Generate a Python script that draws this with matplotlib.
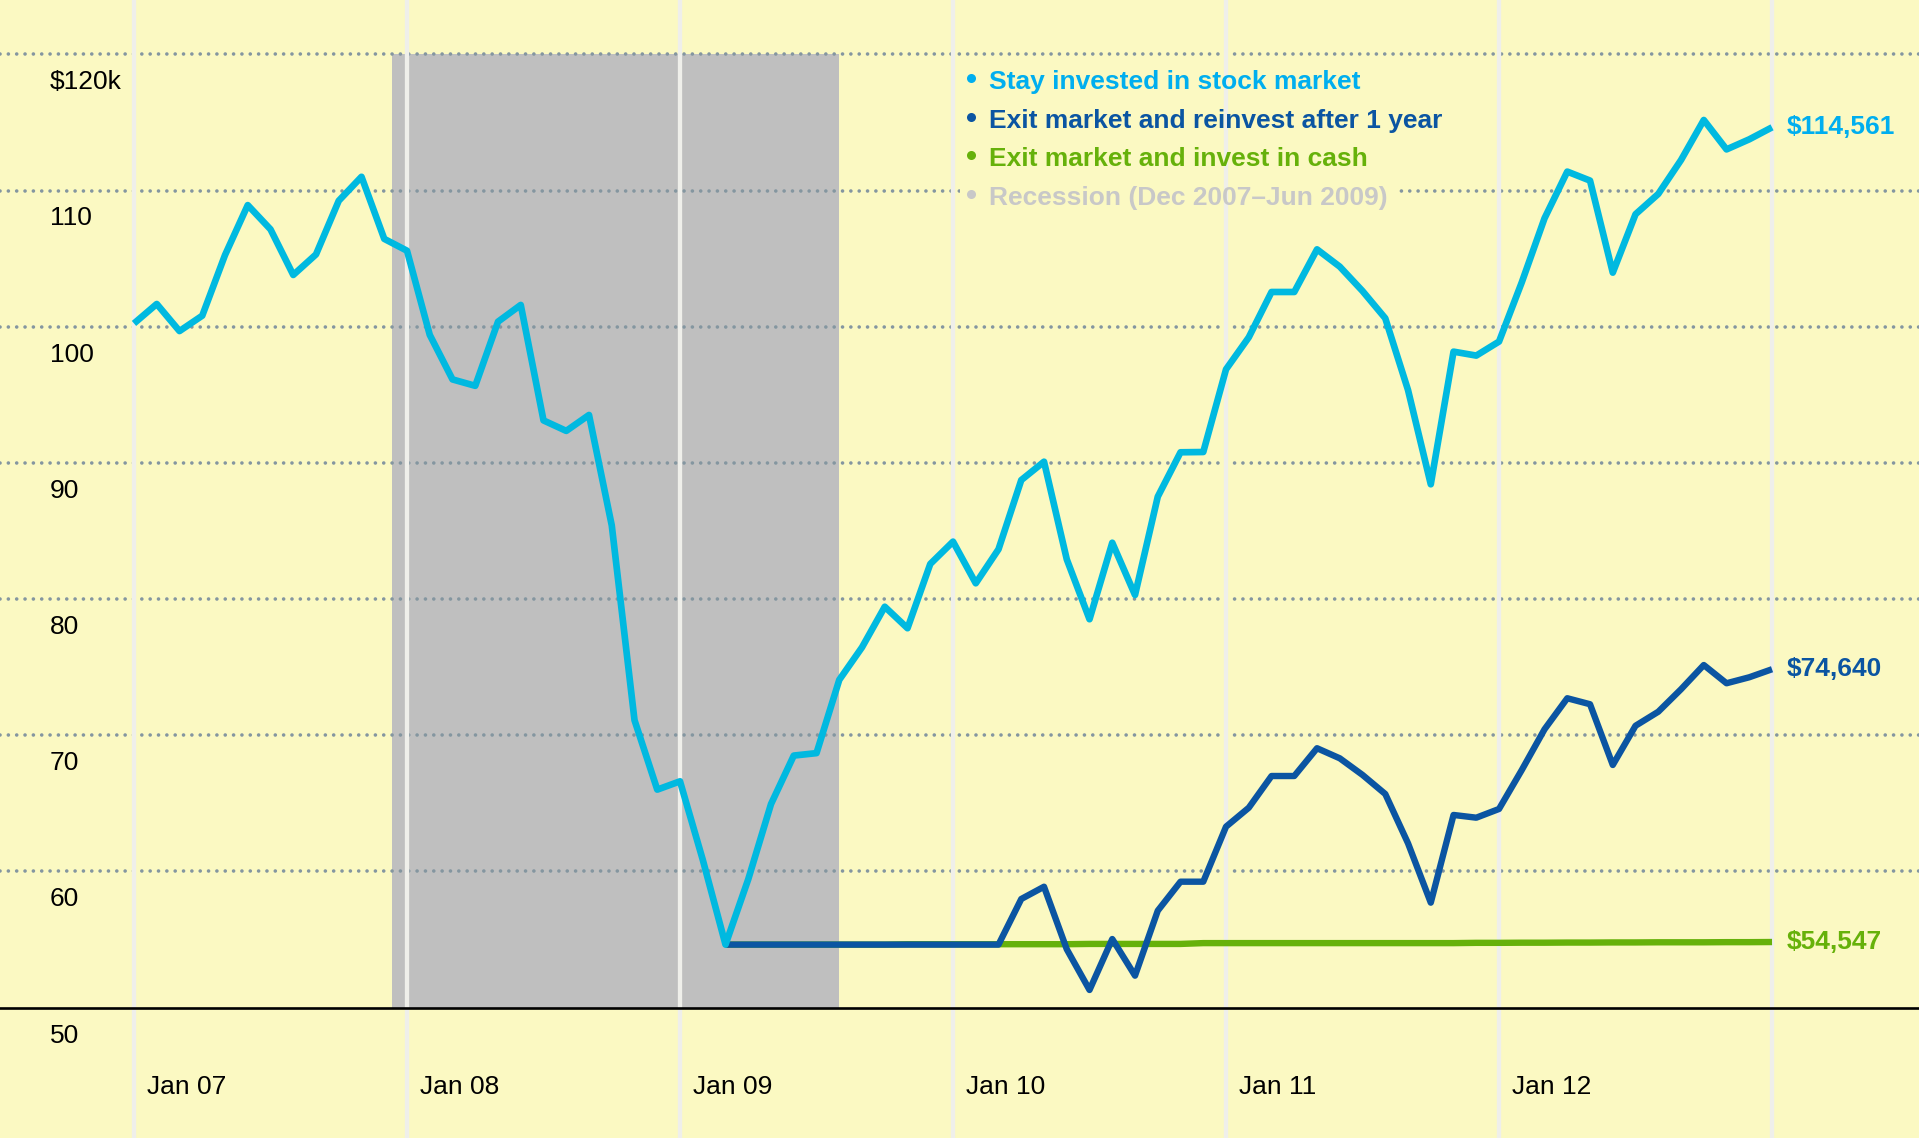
import numpy as np
import matplotlib
matplotlib.use('Agg')
from matplotlib import pyplot as plt
from matplotlib.patches import Rectangle

plt.rcParams['font.family'] = ['Liberation Sans', 'DejaVu Sans']

# month index 0 = Jan 2007, 72 = Jan 2013
stock = [100.24, 101.67, 99.68, 100.81, 105.26, 108.93, 107.15, 103.8, 105.31, 109.25,
         111.01, 106.45, 105.58, 99.4, 96.13, 95.66, 100.37, 101.6, 93.12, 92.35,
         93.52, 85.41, 71.11, 66.01, 66.62, 60.86, 54.63, 59.43, 64.95, 68.51,
         68.69, 74.07, 76.46, 79.44, 77.86, 82.58, 84.22, 81.16, 83.66, 88.74,
         90.09, 82.92, 78.52, 84.14, 80.3, 87.52, 90.78, 90.8, 96.87, 99.22,
         102.55, 102.55, 105.68, 104.41, 102.62, 100.62, 95.35, 88.43, 98.17, 97.88,
         98.91, 103.26, 107.96, 111.39, 110.73, 103.97, 108.26, 109.75, 112.24, 115.18,
         113.02, 113.76, 114.64]

# the other two start at the Mar 2009 bottom (month 26)
exit_start = 26
reinvest = [54.63, 54.63, 54.63, 54.63, 54.63, 54.63, 54.63, 54.63, 54.63, 54.63,
            54.63, 54.63, 54.63,
            57.98, 58.88, 54.29, 51.3, 55.04, 52.35, 57.12, 59.25, 59.25, 63.29,
            64.68, 67.01, 67.01, 69.05, 68.31, 67.09, 65.69, 62.07, 57.71, 64.15,
            63.95, 64.59, 67.45, 70.44, 72.72, 72.28, 67.82, 70.7, 71.73, 73.38,
            75.16, 73.82, 74.26, 74.85]
cash = [54.63, 54.63, 54.63, 54.63, 54.63, 54.63, 54.63, 54.63,
        54.66, 54.66, 54.66, 54.66, 54.66, 54.66, 54.66, 54.66,
        54.68, 54.68, 54.68, 54.68, 54.68,
        54.74, 54.74, 54.74, 54.74, 54.74, 54.74, 54.74, 54.74, 54.74, 54.74, 54.74, 54.74,
        54.76, 54.76, 54.77, 54.77, 54.78, 54.78, 54.79, 54.79, 54.8, 54.8, 54.8,
        54.81, 54.81, 54.82]

end_labels = ['$114,561', '$74,640', '$54,547']
legend_labels = ['Stay invested in stock market', 'Exit market and reinvest after 1 year',
                 'Exit market and invest in cash', 'Recession (Dec 2007\u2013Jun 2009)']
year_labels = ['Jan 07', 'Jan 08', 'Jan 09', 'Jan 10', 'Jan 11', 'Jan 12']
y_values = [50, 60, 70, 80, 90, 100, 110, 120]
y_labels = ['50', '60', '70', '80', '90', '100', '110', '$120k']
recession = (11.35, 31.0)

c_stock = '#00B9E0'
c_stock_txt = '#00AEEF'
c_reinv = '#0B55A2'
c_cash = '#66B10A'
c_rec = '#C8C8C8'
bg = '#FBF9C2'

fig = plt.figure(figsize=(19.19, 11.38), dpi=100, facecolor=bg)
ax = fig.add_axes([0, 0, 1, 1])
ax.set_facecolor(bg)
ax.set_xlim(-5.89, 78.46)
ax.set_ylim(40.43, 123.99)
ax.axis('off')

ax.fill_between(recession, 50, 120, color='#BFBFBF', lw=0, zorder=1)
for v in y_values[1:]:
    ax.axhline(v, color='#8496A0', lw=2.6, ls=(0, (0.01, 2.3)),
               dash_capstyle='round', zorder=2)
# legend background hides the dotted line behind the last entry
ax.add_patch(Rectangle((36.3, 108.4), 19.3, 2.5, facecolor=bg, edgecolor='none', zorder=2.5))
for m in range(0, 73, 12):
    ax.axvline(m, color='#EFEFEA', lw=3.1, zorder=3)
ax.axhline(50, color='black', lw=1.9, zorder=3)

m_all = np.arange(len(stock))
m_exit = np.arange(exit_start, exit_start + len(cash))
ax.plot(m_exit, cash, color=c_cash, lw=4.6, solid_capstyle='butt', zorder=4)
ax.plot(m_exit, reinvest, color=c_reinv, lw=4.6, solid_capstyle='butt', zorder=5)
ax.plot(m_all, stock, color=c_stock, lw=4.8, solid_capstyle='butt', zorder=6)

fs = 19
for lab, val, col in zip(end_labels, [stock[-1], reinvest[-1], cash[-1]],
                         [c_stock_txt, c_reinv, c_cash]):
    ax.text(72.66, val, lab, color=col, fontsize=fs, fontweight='bold',
            ha='left', va='center', zorder=7)

for v, lab in zip(y_values, y_labels):
    ax.text(-3.69, v - 2.05, lab, fontsize=fs, ha='left', va='center', color='black')
for i, lab in enumerate(year_labels):
    ax.text(i * 12 + 0.57, 44.2, lab, fontsize=fs, ha='left', va='center', color='black')

leg_y = [117.95, 115.1, 112.3, 109.45]
for y, lab, col in zip(leg_y, legend_labels, [c_stock_txt, c_reinv, c_cash, c_rec]):
    ax.plot([36.77], [y + 0.3], marker='o', ms=6.5, color=col, mec='none', zorder=7)
    ax.text(37.58, y, lab, color=col, fontsize=fs, fontweight='bold',
            ha='left', va='center', zorder=7)

fig.savefig('out.png', dpi=100, facecolor=bg)
